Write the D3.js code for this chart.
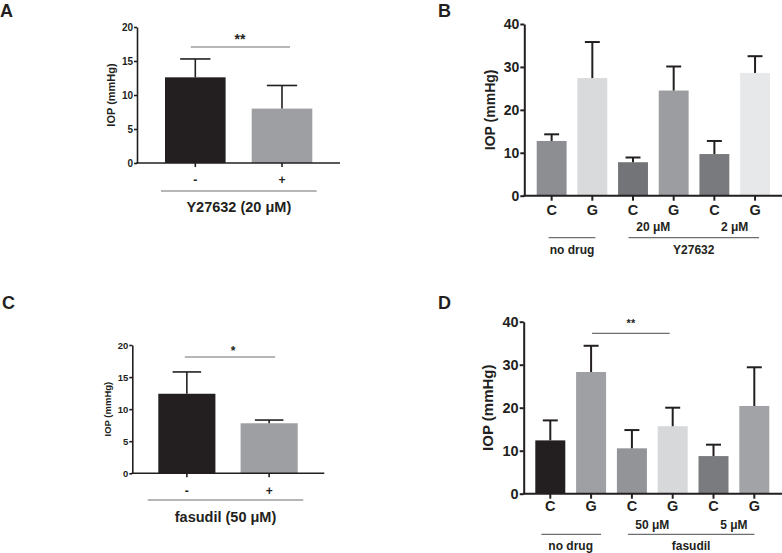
<!DOCTYPE html>
<html>
<head>
<meta charset="utf-8">
<script src="https://cdn.jsdelivr.net/npm/d3@7"></script>
<style>
  body { margin: 0; background: #fff; }
  svg { display: block; }
  text { font-family: "Liberation Sans", Arial, Helvetica, sans-serif; font-weight: bold; fill: #231f20; }
</style>
</head>
<body>
<svg id="chart" width="782" height="553"></svg>
<script>
// ---------------- DATA ----------------
const panelACategories = ["-", "+"];
const panelAMeans = [12.6, 8.0];
const panelAErrors = [2.7, 3.4];
const panelAColors = ["#231f20", "#9d9fa2"];

const panelBCategories = ["C", "G", "C", "G", "C", "G"];
const panelBMeans = [12.75, 27.4, 7.8, 24.5, 9.7, 28.6];
const panelBErrors = [1.55, 8.4, 1.1, 5.6, 3.05, 3.9];
const panelBColors = ["#8d8e91", "#d9dadc", "#737477", "#9c9da0", "#797a7d", "#e7e8e9"];
const panelBDoses = ["20 μM", "2 μM"];

const panelCCategories = ["-", "+"];
const panelCMeans = [12.4, 7.8];
const panelCErrors = [3.4, 0.5];
const panelCColors = ["#231f20", "#9d9fa2"];

const panelDCategories = ["C", "G", "C", "G", "C", "G"];
const panelDMeans = [12.4, 28.3, 10.55, 15.7, 8.75, 20.4];
const panelDErrors = [4.65, 6.1, 4.25, 4.3, 2.65, 9.0];
const panelDColors = ["#231f20", "#9fa0a3", "#939497", "#d7d8da", "#7a7b7e", "#a2a3a6"];
const panelDDoses = ["50 μM", "5 μM"];

const yTicksSmall = [0, 5, 10, 15, 20];
const yTicksLarge = [0, 10, 20, 30, 40];
const yLabel = "IOP (mmHg)";

// ---------------- DRAWING ----------------
const svg = d3.select("#chart");
const ink = "#231f20";
const lineGray = "#6d6e71";

function drawPanel(cfg) {
  const g = svg.append("g");
  const n = cfg.means.length;
  const idx = d3.range(n);
  const y = d3.scaleLinear().domain([0, d3.max(cfg.ticks)]).range([cfg.y0, cfg.yTop]);
  const x = d3.scaleBand().domain(idx).range(cfg.xRange).paddingInner(cfg.pad).paddingOuter(0);
  const bw = x.bandwidth();

  // bars
  g.selectAll("rect.bar").data(idx).join("rect")
    .attr("x", i => x(i)).attr("width", bw)
    .attr("y", i => y(cfg.means[i]))
    .attr("height", i => y(0) - y(cfg.means[i]))
    .attr("fill", i => cfg.colors[i]);

  // error bars (upper whisker)
  const eg = g.selectAll("g.err").data(idx).join("g");
  eg.append("line")
    .attr("x1", i => x(i) + bw / 2).attr("x2", i => x(i) + bw / 2)
    .attr("y1", i => y(cfg.means[i])).attr("y2", i => y(cfg.means[i] + cfg.errors[i]))
    .attr("stroke", ink).attr("stroke-width", cfg.sw);
  eg.append("line")
    .attr("x1", i => x(i) + bw / 4).attr("x2", i => x(i) + bw * 3 / 4)
    .attr("y1", i => y(cfg.means[i] + cfg.errors[i])).attr("y2", i => y(cfg.means[i] + cfg.errors[i]))
    .attr("stroke", ink).attr("stroke-width", cfg.sw);

  // y axis
  const ya = g.append("g").attr("transform", `translate(${cfg.axisX},0)`)
    .call(d3.axisLeft(y).tickValues(cfg.ticks).tickSize(cfg.tickLen).tickSizeOuter(0).tickPadding(1));
  ya.select(".domain").attr("stroke", ink).attr("stroke-width", cfg.sw);
  ya.selectAll(".tick line").attr("stroke", ink).attr("stroke-width", cfg.sw);
  ya.selectAll(".tick text").style("font-size", cfg.tickFont + "px").attr("fill", ink)
    .style("font-family", '"Liberation Sans", Arial, sans-serif').style("font-weight", "bold");

  // x axis line
  g.append("line").attr("x1", cfg.axisX - cfg.sw / 2).attr("x2", cfg.xEnd)
    .attr("y1", y(0)).attr("y2", y(0)).attr("stroke", ink).attr("stroke-width", cfg.sw);
  // x ticks
  g.selectAll("line.xt").data(idx).join("line")
    .attr("x1", i => x(i) + bw / 2).attr("x2", i => x(i) + bw / 2)
    .attr("y1", y(0)).attr("y2", y(0) + cfg.tickLen + 1)
    .attr("stroke", ink).attr("stroke-width", cfg.sw);
  // x labels
  g.selectAll("text.xl").data(idx).join("text")
    .attr("x", i => x(i) + bw / 2).attr("y", cfg.catY)
    .attr("text-anchor", "middle").style("font-size", cfg.catFont + "px")
    .text(i => cfg.cats[i]);

  // y label
  g.append("text")
    .attr("transform", `translate(${cfg.yLabelX},${(y(0) + y(d3.max(cfg.ticks))) / 2}) rotate(-90)`)
    .attr("text-anchor", "middle").attr("dominant-baseline", "middle")
    .style("font-size", cfg.yLabelFont + "px").text(yLabel);

  // panel letter
  g.append("text").attr("x", cfg.letterX).attr("y", cfg.letterY)
    .style("font-size", "18px").text(cfg.letter);

  return { g, x, y, bw };
}

function hline(g, x1, x2, yy, sw) {
  g.append("line").attr("x1", x1).attr("x2", x2).attr("y1", yy).attr("y2", yy)
    .attr("stroke", lineGray).attr("stroke-width", sw || 1.2);
}
function label(g, xx, yy, txt, size) {
  g.append("text").attr("x", xx).attr("y", yy).attr("text-anchor", "middle")
    .style("font-size", size + "px").text(txt);
}

// Panel A
{
  const p = drawPanel({
    means: panelAMeans, errors: panelAErrors, colors: panelAColors, cats: panelACategories,
    ticks: yTicksSmall, y0: 163, yTop: 27, xRange: [165, 312.3], pad: 0.301,
    axisX: 137, xEnd: 340, sw: 1.6, tickLen: 3, tickFont: 10, catFont: 12, catY: 183.5,
    yLabelX: 112, yLabelFont: 11, letter: "A", letterX: 0, letterY: 17
  });
  const c = i => p.x(i) + p.bw / 2;
  hline(p.g, c(0) - 4.5, c(1) + 8, 47);
  label(p.g, 240, 44, "**", 14);
  hline(p.g, 161, 316.7, 191);
  label(p.g, (161 + 316.7) / 2, 212, "Y27632 (20 μM)", 14.5);
}

// Panel B
{
  const p = drawPanel({
    means: panelBMeans, errors: panelBErrors, colors: panelBColors, cats: panelBCategories,
    ticks: yTicksLarge, y0: 195.7, yTop: 24, xRange: [536.7, 770], pad: 0.265,
    axisX: 524.3, xEnd: 782, sw: 2, tickLen: 4, tickFont: 14, catFont: 14.5, catY: 215.3,
    yLabelX: 491, yLabelFont: 14, letter: "B", letterX: 438, letterY: 17
  });
  const c = i => p.x(i) + p.bw / 2;
  label(p.g, (c(2) + c(3)) / 2, 230.5, panelBDoses[0], 12);
  label(p.g, (c(4) + c(5)) / 2, 230.5, panelBDoses[1], 12);
  hline(p.g, c(0) - 3, c(1) + 3, 237.7);
  hline(p.g, c(2) - 4.5, c(5) + 4, 237.7);
  label(p.g, (c(0) + c(1)) / 2, 254, "no drug", 12);
  label(p.g, (c(2) - 4.5 + c(5) + 4) / 2, 254, "Y27632", 12);
}

// Panel C
{
  const p = drawPanel({
    means: panelCMeans, errors: panelCErrors, colors: panelCColors, cats: panelCCategories,
    ticks: yTicksSmall, y0: 473.3, yTop: 345, xRange: [158.3, 297.7], pad: 0.306,
    axisX: 132.3, xEnd: 324.3, sw: 1.6, tickLen: 3, tickFont: 9.5, catFont: 12, catY: 494.5,
    yLabelX: 108.7, yLabelFont: 9.5, letter: "C", letterX: 2, letterY: 309
  });
  const c = i => p.x(i) + p.bw / 2;
  hline(p.g, c(0) - 2, c(1) + 6, 357);
  label(p.g, 233, 355, "*", 12);
  hline(p.g, 147.7, 303.3, 500);
  label(p.g, (147.7 + 303.3) / 2, 522, "fasudil (50 μM)", 14.5);
}

// Panel D
{
  const p = drawPanel({
    means: panelDMeans, errors: panelDErrors, colors: panelDColors, cats: panelDCategories,
    ticks: yTicksLarge, y0: 493.7, yTop: 321.7, xRange: [535.3, 769.3], pad: 0.265,
    axisX: 523.7, xEnd: 782, sw: 2, tickLen: 4, tickFont: 14.5, catFont: 14.5, catY: 511,
    yLabelX: 489, yLabelFont: 15, letter: "D", letterX: 438, letterY: 309
  });
  const c = i => p.x(i) + p.bw / 2;
  hline(p.g, c(1) + 1, c(3) - 3, 333.3);
  label(p.g, (c(1) + c(3)) / 2 - 1, 327, "**", 11);
  label(p.g, (c(2) + c(3)) / 2, 528.6, panelDDoses[0], 12);
  label(p.g, (c(4) + c(5)) / 2, 528.6, panelDDoses[1], 12);
  hline(p.g, c(0) - 9, c(1) + 10, 534.3);
  hline(p.g, c(2) - 4, c(5) + 0, 534.3);
  label(p.g, (c(0) + c(1)) / 2, 550, "no drug", 12);
  label(p.g, (c(2) - 4 + c(5)) / 2, 550, "fasudil", 12);
}
</script>
</body>
</html>
